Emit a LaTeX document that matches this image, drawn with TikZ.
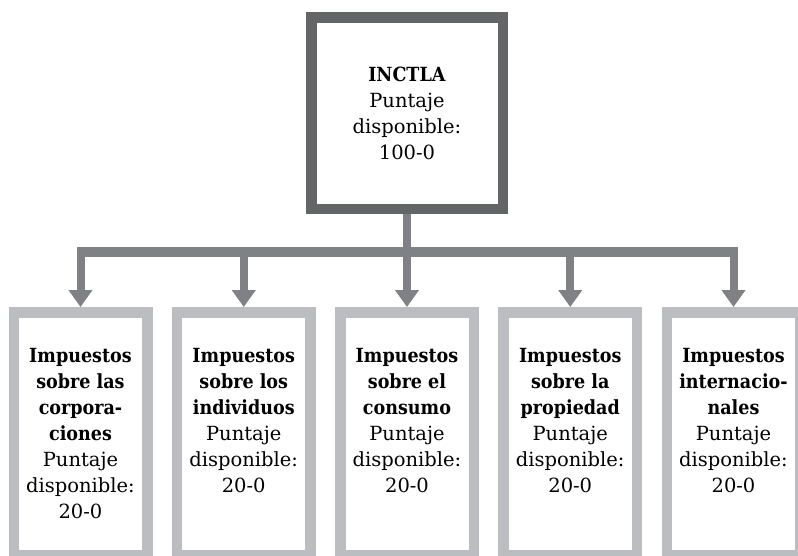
\documentclass[tikz,border=0pt]{standalone}
\usepackage{fontspec}
\setmainfont{DejaVu Serif}[BoldFont={DejaVu Serif Condensed Bold}]
\usetikzlibrary{arrows.meta}
\definecolor{darkbox}{HTML}{646567}
\definecolor{conn}{HTML}{808184}
\definecolor{lightbox}{HTML}{BCBDC0}
\newcommand{\subtext}[1]{\parbox[c][242.5pt][t]{133.5pt}{\centering\fontsize{19.5}{26}\selectfont\rule{0pt}{49.75pt}#1}}
\begin{document}
\begin{tikzpicture}[x=1pt,y=-1pt,
  topbox/.style={draw=darkbox,line width=10.5pt,fill=white,minimum width=191.5pt,minimum height=191.5pt,inner sep=0pt,align=center,font=\fontsize{19.5}{26}\selectfont},
  subbox/.style={draw=lightbox,line width=10.5pt,fill=white,inner sep=0pt},
  stem/.style={draw=conn,line width=8pt},
  barline/.style={draw=conn,line width=9.5pt},
  arr/.style={draw=conn,line width=8pt,-{Triangle[width=23pt,length=17pt]}}]
\useasboundingbox (0,0) rectangle (798,555);
\clip (0,0) rectangle (798,555);
\node[topbox] (top) at (407,113) {\textbf{INCTLA}\\Puntaje\\disponible:\\100-0};
\node[subbox] (b1) at (80.5,433.5) {\subtext{\textbf{Impuestos}\\\textbf{sobre las}\\\textbf{corpora-}\\\textbf{ciones}\\Puntaje\\disponible:\\20-0}};
\node[subbox] (b2) at (243.75,433.5) {\subtext{\textbf{Impuestos}\\\textbf{sobre los}\\\textbf{individuos}\\Puntaje\\disponible:\\20-0}};
\node[subbox] (b3) at (407,433.5) {\subtext{\textbf{Impuestos}\\\textbf{sobre el}\\\textbf{consumo}\\Puntaje\\disponible:\\20-0}};
\node[subbox] (b4) at (570.25,433.5) {\subtext{\textbf{Impuestos}\\\textbf{sobre la}\\\textbf{propiedad}\\Puntaje\\disponible:\\20-0}};
\node[subbox] (b5) at (733.5,433.5) {\subtext{\textbf{Impuestos}\\\textbf{internacio-}\\\textbf{nales}\\Puntaje\\disponible:\\20-0}};
\coordinate (j) at (407,252);
\draw[stem] (top.south) -- (j);
\draw[barline] ([xshift=-4pt]b1.north |- j) -- ([xshift=4pt]b5.north |- j);
\foreach \b in {b1,b2,b3,b4,b5}{
  \draw[arr] (\b.north |- j) -- (\b.north);
}
\end{tikzpicture}
\end{document}
